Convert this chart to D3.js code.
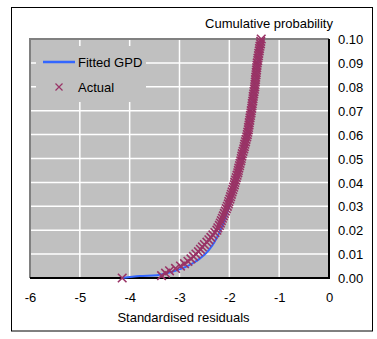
<!DOCTYPE html>
<html>
<head>
<meta charset="utf-8">
<script src="https://cdn.jsdelivr.net/npm/d3@7"></script>
<style>
  body { margin: 0; background: #fff; }
  text { font-family: "Liberation Sans", Arial, sans-serif; fill: #000; }
</style>
</head>
<body>
<div id="chart"></div>
<script>
// x ticks / y ticks
var xTicks = [-6, -5, -4, -3, -2, -1, 0];
var yTicks = [0, 0.01, 0.02, 0.03, 0.04, 0.05, 0.06, 0.07, 0.08, 0.09, 0.10];

// Fitted GPD curve (residual, cumulative probability)
var fittedX = [-4.15, -3.8, -3.45, -3.3, -3.15, -3.0, -2.85, -2.7, -2.6, -2.5, -2.4, -2.3, -2.2, -2.1, -2.0, -1.9, -1.8, -1.7, -1.6, -1.5, -1.42, -1.36];
var fittedP = [0.0, 0.0008, 0.0012, 0.0018, 0.0026, 0.0036, 0.0049, 0.0066, 0.0080, 0.0097, 0.0120, 0.0150, 0.0190, 0.0240, 0.0300, 0.0370, 0.0450, 0.0550, 0.0660, 0.0790, 0.0910, 0.1000];

// Actual sorted standardised residuals and their empirical probabilities
var actualX = [-4.15, -3.36, -3.28, -3.20, -3.08, -2.98, -2.90, -2.83, -2.77, -2.72,
  -2.67, -2.62, -2.58, -2.54, -2.50, -2.45, -2.41, -2.37, -2.33, -2.29,
  -2.25, -2.23, -2.20, -2.18, -2.16, -2.14, -2.12, -2.10, -2.08, -2.06,
  -2.04, -2.02, -2.01, -1.99, -1.975, -1.96, -1.945, -1.93, -1.915, -1.90,
  -1.89, -1.875, -1.86, -1.845, -1.83, -1.82, -1.81, -1.795, -1.785, -1.77,
  -1.76, -1.75, -1.74, -1.725, -1.71, -1.70, -1.69, -1.675, -1.665, -1.65,
  -1.64, -1.63, -1.62, -1.615, -1.605, -1.60, -1.59, -1.585, -1.575, -1.565,
  -1.56, -1.55, -1.545, -1.54, -1.53, -1.525, -1.52, -1.51, -1.505, -1.495,
  -1.49, -1.485, -1.48, -1.475, -1.47, -1.465, -1.46, -1.455, -1.45, -1.445,
  -1.44, -1.43, -1.425, -1.415, -1.41, -1.40, -1.395, -1.385, -1.375, -1.37,
  -1.36];
var actualP = [0.000, 0.001, 0.002, 0.003, 0.004, 0.005, 0.006, 0.007, 0.008, 0.009,
  0.010, 0.011, 0.012, 0.013, 0.014, 0.015, 0.016, 0.017, 0.018, 0.019,
  0.020, 0.021, 0.022, 0.023, 0.024, 0.025, 0.026, 0.027, 0.028, 0.029,
  0.030, 0.031, 0.032, 0.033, 0.034, 0.035, 0.036, 0.037, 0.038, 0.039,
  0.040, 0.041, 0.042, 0.043, 0.044, 0.045, 0.046, 0.047, 0.048, 0.049,
  0.050, 0.051, 0.052, 0.053, 0.054, 0.055, 0.056, 0.057, 0.058, 0.059,
  0.060, 0.061, 0.062, 0.063, 0.064, 0.065, 0.066, 0.067, 0.068, 0.069,
  0.070, 0.071, 0.072, 0.073, 0.074, 0.075, 0.076, 0.077, 0.078, 0.079,
  0.080, 0.081, 0.082, 0.083, 0.084, 0.085, 0.086, 0.087, 0.088, 0.089,
  0.090, 0.091, 0.092, 0.093, 0.094, 0.095, 0.096, 0.097, 0.098, 0.099,
  0.100];

var W = 377, H = 339;
var plot = { left: 30, top: 39, right: 329, bottom: 278 };

var svg = d3.select("#chart").append("svg")
    .attr("width", W)
    .attr("height", H);

// outer frame
svg.append("rect")
    .attr("x", 11.5).attr("y", 7.5)
    .attr("width", 361).attr("height", 323.5)
    .attr("fill", "#fff")
    .attr("stroke", "#000")
    .attr("stroke-width", 1);

var x = d3.scaleLinear().domain([-6, 0]).range([plot.left, plot.right]);
var y = d3.scaleLinear().domain([0, 0.1]).range([plot.bottom, plot.top]);

// plot area
svg.append("rect")
    .attr("x", plot.left).attr("y", plot.top)
    .attr("width", plot.right - plot.left).attr("height", plot.bottom - plot.top)
    .attr("fill", "#c0c0c0");

// gridlines
svg.append("g").selectAll("line").data(xTicks.slice(1, -1)).enter().append("line")
    .attr("x1", function (d) { return x(d); }).attr("x2", function (d) { return x(d); })
    .attr("y1", plot.top).attr("y2", plot.bottom)
    .attr("stroke", "#fff").attr("stroke-width", 1.5);

svg.append("g").selectAll("line").data(yTicks.slice(1, -1)).enter().append("line")
    .attr("x1", plot.left).attr("x2", plot.right)
    .attr("y1", function (d) { return y(d); }).attr("y2", function (d) { return y(d); })
    .attr("stroke", "#fff").attr("stroke-width", 1.5);

// plot border: grey top/left, black right/bottom
svg.append("path")
    .attr("d", "M" + plot.left + "," + plot.bottom + "V" + plot.top + "H" + plot.right)
    .attr("fill", "none").attr("stroke", "#808080").attr("stroke-width", 2);
svg.append("path")
    .attr("d", "M" + plot.right + "," + plot.top + "V" + plot.bottom + "H" + plot.left)
    .attr("fill", "none").attr("stroke", "#000").attr("stroke-width", 2);

// x axis labels
svg.append("g")
    .attr("transform", "translate(0," + 301.5 + ")")
    .call(d3.axisBottom(x).tickValues(xTicks).tickSize(0).tickPadding(0)
        .tickFormat(function (d) { return String(d); }))
    .call(function (g) { g.select(".domain").remove(); })
    .selectAll("text")
    .attr("dy", 0)
    .attr("font-size", "13px")
    .attr("font-family", "Liberation Sans, Arial, sans-serif")
    .attr("fill", "#000");

// y axis labels on the right
svg.append("g")
    .attr("transform", "translate(" + 338 + ",0)")
    .call(d3.axisRight(y).tickValues(yTicks).tickSize(0).tickPadding(0)
        .tickFormat(d3.format(".2f")))
    .call(function (g) { g.select(".domain").remove(); })
    .selectAll("text")
    .attr("dy", "0.36em")
    .attr("font-size", "13px")
    .attr("font-family", "Liberation Sans, Arial, sans-serif")
    .attr("fill", "#000");

svg.append("text")
    .attr("x", 333).attr("y", 27.5)
    .attr("text-anchor", "end")
    .style("font-size", "13px")
    .text("Cumulative probability");

svg.append("text")
    .attr("x", 183.5).attr("y", 321.5)
    .attr("text-anchor", "middle")
    .style("font-size", "13px")
    .text("Standardised residuals");

// fitted GPD line
var fitted = fittedX.map(function (d, i) { return [d, fittedP[i]]; });
svg.append("path")
    .datum(fitted)
    .attr("fill", "none")
    .attr("stroke", "#3366ff")
    .attr("stroke-width", 2)
    .attr("d", d3.line()
        .curve(d3.curveMonotoneX)
        .x(function (d) { return x(d[0]); })
        .y(function (d) { return y(d[1]); }));

// actual markers
function cross(cx, cy, r) {
    return "M" + (cx - r) + "," + (cy - r) + "L" + (cx + r) + "," + (cy + r) +
        "M" + (cx - r) + "," + (cy + r) + "L" + (cx + r) + "," + (cy - r);
}
svg.append("g").selectAll("path").data(actualX).enter().append("path")
    .attr("d", function (d, i) { return cross(x(d), y(actualP[i]), 4.3); })
    .attr("stroke", "#993366")
    .attr("stroke-width", 1.6)
    .attr("fill", "none");

// legend
svg.append("rect")
    .attr("x", 36).attr("y", 46)
    .attr("width", 110).attr("height", 56)
    .attr("fill", "#c0c0c0");
svg.append("line")
    .attr("x1", 43).attr("x2", 75).attr("y1", 62).attr("y2", 62)
    .attr("stroke", "#3366ff").attr("stroke-width", 2.5);
svg.append("text")
    .attr("x", 78).attr("y", 62).attr("dy", "0.36em")
    .style("font-size", "13px")
    .text("Fitted GPD");
svg.append("path")
    .attr("d", cross(59, 87, 3.5))
    .attr("stroke", "#993366").attr("stroke-width", 1.2).attr("fill", "none");
svg.append("text")
    .attr("x", 78).attr("y", 87).attr("dy", "0.36em")
    .style("font-size", "13px")
    .text("Actual");
</script>
</body>
</html>
